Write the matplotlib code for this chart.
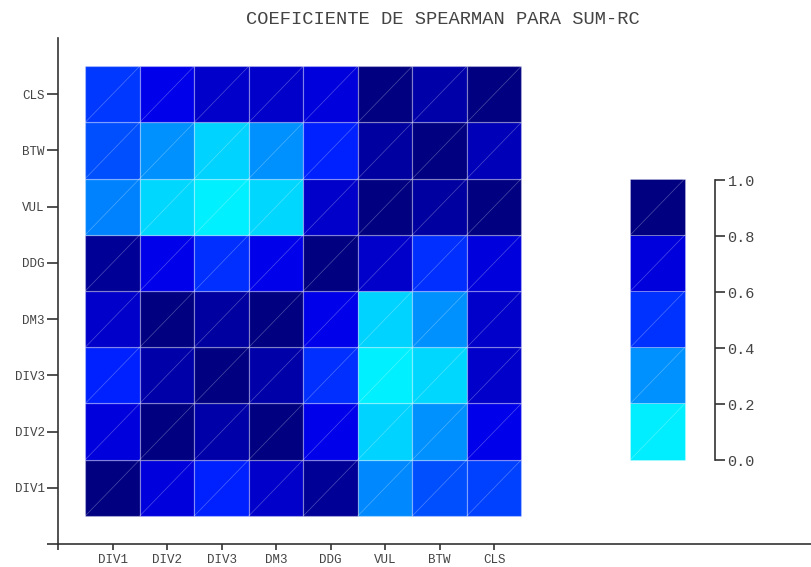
import numpy as np
import matplotlib
matplotlib.use('Agg')
import matplotlib.pyplot as plt
from matplotlib.colors import LinearSegmentedColormap
from matplotlib.patches import Rectangle

plt.rcParams['font.family'] = ['Liberation Mono', 'DejaVu Sans Mono']

# Medidas comparadas (eje x de izquierda a derecha, eje y de abajo hacia arriba)
medidas = ['DIV1', 'DIV2', 'DIV3', 'DM3', 'DDG', 'VUL', 'BTW', 'CLS']

# Coeficiente de Spearman; cada fila corresponde a una medida del eje y
rho_div1 = [0.95, 0.70, 0.54, 0.74, 0.85, 0.32, 0.44, 0.47]
rho_div2 = [0.70, 0.95, 0.81, 0.92, 0.67, 0.16, 0.30, 0.67]
rho_div3 = [0.54, 0.81, 0.95, 0.81, 0.51, 0.09, 0.15, 0.74]
rho_dm3 = [0.74, 0.92, 0.83, 0.93, 0.67, 0.16, 0.30, 0.74]
rho_ddg = [0.85, 0.67, 0.51, 0.67, 0.95, 0.74, 0.51, 0.70]
rho_vul = [0.33, 0.15, 0.09, 0.15, 0.74, 0.94, 0.83, 0.92]
rho_btw = [0.44, 0.30, 0.16, 0.30, 0.54, 0.83, 0.93, 0.78]
rho_cls = [0.49, 0.67, 0.74, 0.74, 0.70, 0.92, 0.81, 0.95]

# Niveles de la leyenda y marcas de su escala
niveles = [0.1, 0.3, 0.5, 0.7, 0.9]
escala = [0.0, 0.2, 0.4, 0.6, 0.8, 1.0]

rho = np.array([rho_div1, rho_div2, rho_div3, rho_dm3,
                rho_ddg, rho_vul, rho_btw, rho_cls])

cmap = LinearSegmentedColormap.from_list('spearman', [
    (0.0, '#00ffff'), (0.1, '#00eeff'), (0.3, '#0090ff'), (0.5, '#0033ff'),
    (0.62, '#0000ff'), (0.7, '#0000dd'), (0.9, '#000080'), (1.0, '#000080')])

gris = '#444444'
W, H = 812, 567
fig = plt.figure(figsize=(W / 100, H / 100), dpi=100)

# Eje principal: ocupa todo el ancho, la leyenda se dibuja dentro
ax = fig.add_axes([58 / W, (H - 544) / H, (W - 58) / W, (544 - 38) / H])
ax.set_xlim(0, 13.83)
ax.set_ylim(0, 9.0)

borde = (1, 1, 1, 0.28)
n = len(medidas)
for i in range(n):
    for j in range(n):
        ax.add_patch(Rectangle((j + 0.5, i + 0.5), 1, 1, facecolor=cmap(rho[i, j]),
                               edgecolor=borde, lw=0.9))
        ax.plot([j + 0.5, j + 1.5], [i + 0.5, i + 1.5], color='white',
                alpha=0.3, lw=0.5)

# Leyenda por bloques
y0 = 1.5
for k, v in enumerate(niveles):
    ax.add_patch(Rectangle((10.5, y0 + k), 1, 1, facecolor=cmap(v),
                           edgecolor=borde, lw=0.6))
    ax.plot([10.5, 11.5], [y0 + k, y0 + k + 1], color='white', alpha=0.3, lw=0.5)

ax.set_xticks(range(n + 1))
ax.set_xticklabels([''] + medidas)
ax.set_yticks(range(n + 1))
ax.set_yticklabels([''] + medidas)
for s in ['top', 'right']:
    ax.spines[s].set_visible(False)
for s in ['left', 'bottom']:
    ax.spines[s].set_color('#333333')
    ax.spines[s].set_linewidth(1.2)
ax.tick_params(axis='both', width=1.2, color='#333333',
               labelsize=9, labelcolor=gris)
ax.tick_params(axis='x', length=4.5, pad=3)
ax.tick_params(axis='y', length=8, pad=1.5)

# Escala de la leyenda
ax2 = fig.add_axes([715 / W - 0.01, (H - 460) / H, 0.01, 280 / H])
ax2.set_ylim(0, 1)
ax2.set_yticks(escala)
ax2.set_yticklabels([f'{e:.1f}' for e in escala])
ax2.yaxis.tick_right()
ax2.set_xticks([])
ax2.patch.set_visible(False)
for s in ['top', 'left', 'bottom']:
    ax2.spines[s].set_visible(False)
ax2.spines['right'].set_color('#333333')
ax2.spines['right'].set_linewidth(1.2)
ax2.tick_params(axis='y', length=7, width=1.2, color='#333333',
                labelsize=11, labelcolor=gris, pad=2)

fig.text(443 / W, 1 - 19 / H, 'COEFICIENTE DE SPEARMAN PARA SUM-RC',
         ha='center', va='center', fontsize=13.5, color=gris)

fig.savefig('out.png', dpi=100)
